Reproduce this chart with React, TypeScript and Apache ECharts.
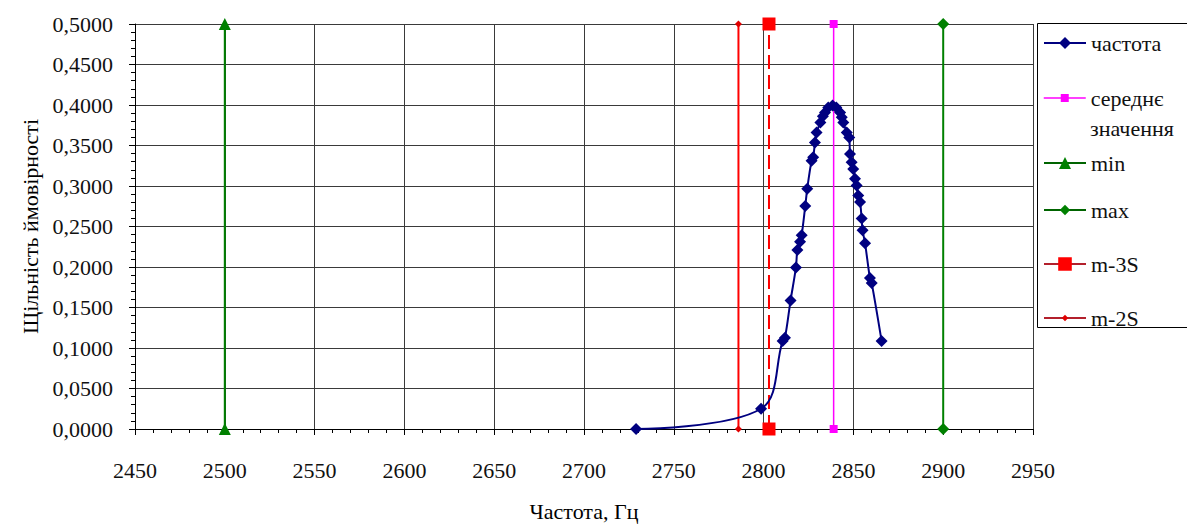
import React, { useEffect, useRef } from "react";
import * as echarts from "echarts";

// ---- data ----
const freqX = [
  2729, 2798.6, 2810.6, 2811.9, 2815.0, 2818.0, 2818.8, 2820.3, 2821.2, 2823.2, 2824.3,
  2826.7, 2827.6, 2828.6, 2829.5, 2831.6, 2833.0, 2834.2, 2836.0, 2838.4, 2840.5, 2842.6,
  2843.5, 2844.4, 2846.3, 2847.7, 2848.1, 2849.0, 2849.9, 2850.9, 2851.8, 2852.7, 2853.7,
  2854.6, 2855.1, 2856.5, 2859.2, 2860.2, 2865.7,
];
const freqY = [
  0.0, 0.025, 0.1087, 0.1127, 0.1585, 0.1994, 0.221, 0.2312, 0.2393, 0.2754, 0.2966,
  0.3313, 0.3354, 0.3538, 0.366, 0.3783, 0.386, 0.3906, 0.397, 0.3995, 0.397, 0.3906,
  0.385, 0.3783, 0.366, 0.36, 0.3395, 0.3293, 0.321, 0.3088, 0.3006, 0.2884, 0.2803,
  0.2598, 0.2455, 0.2292, 0.1863, 0.1801, 0.1087,
];
const meanX = 2839;
const minX = 2500;
const maxX = 2900;
const m3sX = 2803;
const m2sX = 2786;
const yBottom = 0;
const yTop = 0.5;

const seriesNames = ["частота", "середнє значення", "min", "max", "m-3S", "m-2S"];

const FONT = "Liberation Serif, serif";
const RICH = { s: { fontFamily: FONT, fontSize: 22, color: "#111", lineHeight: 24 } };

export default function App() {
  const ref = useRef<HTMLDivElement>(null);

  useEffect(() => {
    if (!ref.current) return;
    const chart = echarts.init(ref.current, undefined, { renderer: "svg" });

    const vline = (x: number) => [
      [x, yBottom],
      [x, yTop],
    ];

    const legendItems = [
      { name: seriesNames[0], cy: 43, h: 15, line: { color: "#000080", width: 2, type: "solid" } },
      { name: seriesNames[1], cy: 98, h: 10, line: { color: "#ff00ff", width: 1.5, type: "solid" } },
      { name: seriesNames[2], cy: 163, h: 15, line: { color: "#006400", width: 2, type: "solid" } },
      { name: seriesNames[3], cy: 210, h: 13, line: { color: "#006400", width: 2, type: "solid" } },
      { name: seriesNames[4], cy: 264, h: 17, line: { color: "#b3202c", width: 2, type: "solid" } },
      { name: seriesNames[5], cy: 318, h: 8, line: { color: "#b3202c", width: 2, type: "solid" } },
    ];

    const option: any = {
      animation: false,
      textStyle: { fontFamily: FONT },
      grid: { left: 135, right: 154, top: 24, bottom: 95 },
      xAxis: {
        type: "value",
        min: 2450,
        max: 2950,
        interval: 50,
        name: "Частота, Гц",
        nameLocation: "middle",
        nameGap: 71,
        nameTextStyle: { fontFamily: FONT, fontSize: 22, color: "#000" },
        axisLine: { show: true, onZero: false, lineStyle: { color: "#000", width: 1 } },
        axisTick: { show: true, length: 6, lineStyle: { color: "#000" } },
        minorTick: { show: true, splitNumber: 5, length: 4, lineStyle: { color: "#000" } },
        axisLabel: {
          fontFamily: FONT,
          fontSize: 22,
          color: "#111",
          margin: 29,
          rich: RICH,
          formatter: (v: number) => "{s|" + String(v) + "}",
        },
        splitLine: { show: true, lineStyle: { color: "#3a3a3a", width: 1 } },
      },
      yAxis: {
        type: "value",
        min: 0,
        max: 0.5,
        interval: 0.05,
        name: "Щільність ймовірності",
        nameLocation: "middle",
        nameGap: 92,
        nameTextStyle: { fontFamily: FONT, fontSize: 22, color: "#000" },
        axisLine: { show: true, lineStyle: { color: "#000", width: 1 } },
        axisTick: { show: true, length: 6, lineStyle: { color: "#000" } },
        minorTick: { show: true, splitNumber: 5, length: 4, lineStyle: { color: "#000" } },
        axisLabel: {
          fontFamily: FONT,
          fontSize: 22,
          color: "#111",
          margin: 22,
          rich: RICH,
          formatter: (v: number) => "{s|" + v.toFixed(4).replace(".", ",") + "}",
        },
        splitLine: { show: true, lineStyle: { color: "#3a3a3a", width: 1 } },
      },
      legend: legendItems.map((it, i) => ({
        show: true,
        data: [it.name],
        orient: "vertical",
        left: 1043,
        top: it.cy - 12,
        padding: 0,
        itemWidth: 42,
        itemHeight: it.h,
        selectedMode: false,
        formatter: i === 1 ? () => "{s|середнє}" : (n: string) => "{s|" + n + "}",
        textStyle: { fontFamily: FONT, fontSize: 22, lineHeight: 24, color: "#111", rich: RICH },
        lineStyle: it.line,
      })),
      graphic: [
        {
          type: "rect",
          shape: { x: 1037.5, y: 23.5, width: 170, height: 304 },
          style: { fill: "none", stroke: "#000", lineWidth: 1 },
          z: 100,
        },
        {
          type: "text",
          x: 1090,
          y: 128,
          style: {
            text: "{s|значення}",
            rich: RICH,
            fontFamily: FONT,
            fontSize: 22,
            fill: "#111",
            verticalAlign: "middle",
          },
          z: 100,
        },
      ],
      series: [
        {
          name: seriesNames[1],
          type: "line",
          data: vline(meanX),
          symbol: "rect",
          symbolSize: 8,
          lineStyle: { color: "#ff00ff", width: 1.5 },
          itemStyle: { color: "#ff00ff" },
        },
        {
          name: seriesNames[2],
          type: "line",
          data: vline(minX),
          symbol: "triangle",
          symbolSize: 12,
          lineStyle: { color: "#008000", width: 2 },
          itemStyle: { color: "#008000" },
        },
        {
          name: seriesNames[3],
          type: "line",
          data: vline(maxX),
          symbol: "diamond",
          symbolSize: 12,
          lineStyle: { color: "#008000", width: 2 },
          itemStyle: { color: "#008000" },
        },
        {
          name: seriesNames[4],
          type: "line",
          data: vline(m3sX),
          symbol: "rect",
          symbolSize: 13,
          lineStyle: { color: "#ff0000", width: 2, type: [14, 6] },
          itemStyle: { color: "#ff0000" },
        },
        {
          name: seriesNames[5],
          type: "line",
          data: vline(m2sX),
          symbol: "diamond",
          symbolSize: 7,
          lineStyle: { color: "#ff0000", width: 2 },
          itemStyle: { color: "#e00000" },
        },
        {
          name: seriesNames[0],
          type: "line",
          data: freqX.map((x, i) => [x, freqY[i]]),
          symbol: "diamond",
          symbolSize: 12,
          smooth: 0.35,
          lineStyle: { color: "#000080", width: 2 },
          itemStyle: { color: "#000080" },
          z: 3,
        },
      ],
    };

    chart.setOption(option);
    return () => chart.dispose();
  }, []);

  return (
    <div
      ref={ref}
      style={{ position: "absolute", left: 0, top: 0, width: 1187, height: 527, background: "#fff" }}
    />
  );
}
